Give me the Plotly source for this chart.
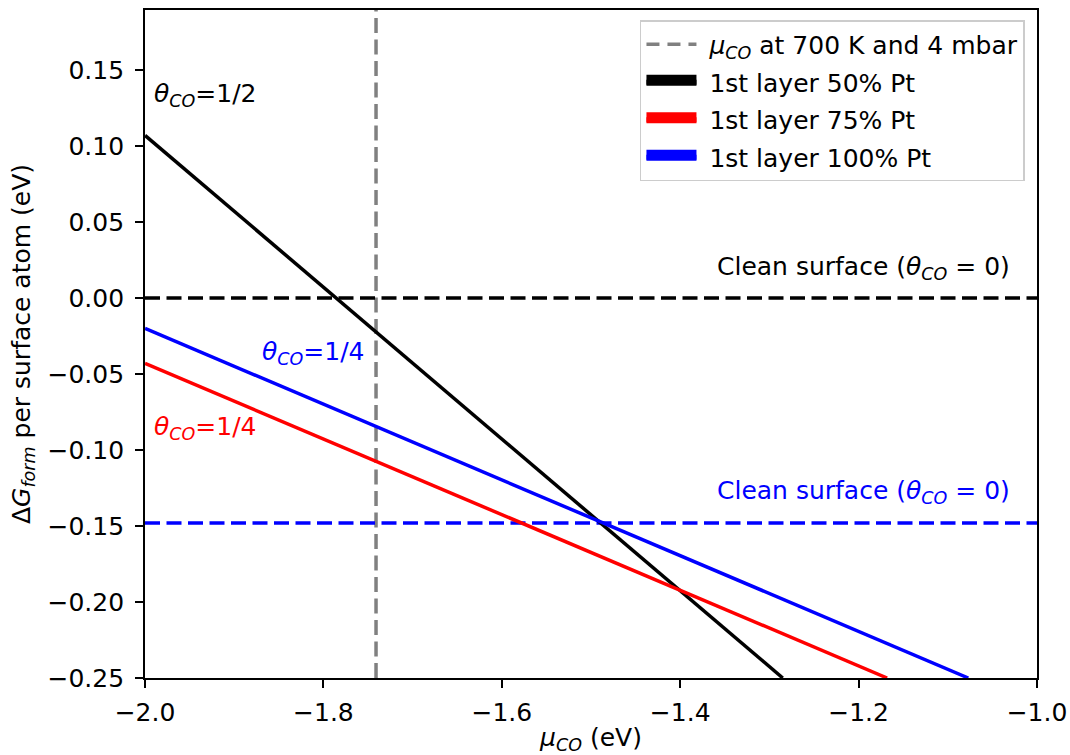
import plotly.graph_objects as go

# Data
mu_range = [-2.0, -1.0]
g_range = [-0.25, 0.1895]

black_x = [-2.0, -1.285]
black_y = [0.107, -0.25]
red_x = [-2.0, -1.168]
red_y = [-0.043, -0.25]
blue_x = [-2.0, -1.077]
blue_y = [-0.020, -0.25]

clean_black = 0.0
clean_blue = -0.148
mu_700K = -1.741

x_ticks = [-2.0, -1.8, -1.6, -1.4, -1.2, -1.0]
y_ticks = [0.15, 0.10, 0.05, 0.00, -0.05, -0.10, -0.15, -0.20, -0.25]

legend_names = ["<i>μ</i><sub><i>CO</i></sub> at 700 K and 4 mbar",
                "1st layer 50% Pt", "1st layer 75% Pt", "1st layer 100% Pt"]

FONT = "DejaVu Sans"
FS = 25
DASH = "15px,6.5px"
LW = 3.5

fig = go.Figure()

# vertical gray dashed line
fig.add_trace(go.Scatter(x=[mu_700K, mu_700K], y=g_range, mode="lines",
                         line=dict(color="#808080", width=LW, dash=DASH),
                         showlegend=False, hoverinfo="skip"))
# clean surface lines
fig.add_trace(go.Scatter(x=mu_range, y=[clean_black, clean_black], mode="lines",
                         line=dict(color="black", width=LW, dash=DASH),
                         showlegend=False))
fig.add_trace(go.Scatter(x=mu_range, y=[clean_blue, clean_blue], mode="lines",
                         line=dict(color="blue", width=LW, dash=DASH),
                         showlegend=False))
# coverage lines
fig.add_trace(go.Scatter(x=black_x, y=black_y, mode="lines",
                         line=dict(color="black", width=LW), showlegend=False))
fig.add_trace(go.Scatter(x=red_x, y=red_y, mode="lines",
                         line=dict(color="red", width=LW), showlegend=False))
fig.add_trace(go.Scatter(x=blue_x, y=blue_y, mode="lines",
                         line=dict(color="blue", width=LW), showlegend=False))

# legend-only traces
fig.add_trace(go.Scatter(x=[None], y=[None], mode="lines",
                         name="&nbsp;" + legend_names[0], legendgroup="g0",
                         line=dict(color="#808080", width=LW, dash="13px,8px")))
for i, (nm, col) in enumerate(zip(legend_names[1:], ["black", "red", "blue"])):
    fig.add_trace(go.Scatter(x=[None, None], y=[None, None], mode="lines",
                             fill="toself", fillcolor=col,
                             name="&nbsp;" + nm, legendgroup="g%d" % (i + 1),
                             line=dict(color=col, width=10)))

theta = "<i>θ</i><sub><i>CO</i></sub>"
annos = [
    dict(x=-1.992, y=0.1336, text=theta + "=1/2", color="black", xanchor="left"),
    dict(x=-1.871, y=-0.036, text=theta + "=1/4", color="blue", xanchor="left"),
    dict(x=-1.992, y=-0.0855, text=theta + "=1/4", color="red", xanchor="left"),
    dict(x=-1.028, y=0.0197, text="Clean surface (" + theta + " = 0)", color="black", xanchor="right"),
    dict(x=-1.028, y=-0.1276, text="Clean surface (" + theta + " = 0)", color="blue", xanchor="right"),
]
for a in annos:
    fig.add_annotation(x=a["x"], y=a["y"], text=a["text"], showarrow=False,
                       xanchor=a["xanchor"], yanchor="middle",
                       font=dict(family=FONT, size=FS, color=a["color"]))

axis_common = dict(showline=True, linecolor="black", linewidth=1.8, mirror=True,
                   ticks="outside", ticklen=8, tickwidth=1.8, tickcolor="black",
                   showgrid=False, zeroline=False, automargin=False,
                   tickfont=dict(family=FONT, size=FS, color="black"))

fig.update_layout(
    width=1070, height=755,
    margin=dict(l=145, r=33, t=10, b=77, autoexpand=False),
    paper_bgcolor="white", plot_bgcolor="white",
    font=dict(family=FONT, size=FS, color="black"),
    xaxis=dict(range=mu_range, tickvals=x_ticks, tickformat=".1f",
               ticklabelstandoff=3,
               title=dict(text="<i>μ</i><sub><i>CO</i></sub> (eV)",
                          font=dict(family=FONT, size=FS), standoff=6),
               **axis_common),
    yaxis=dict(range=g_range, tickvals=y_ticks, tickformat=".2f",
               ticklabelstandoff=6,
               title=dict(text="Δ<i>G</i><sub><i>form</i></sub> per surface atom (eV)",
                          font=dict(family=FONT, size=FS), standoff=10),
               **axis_common),
    legend=dict(x=0.9865, y=0.985, xanchor="right", yanchor="top",
                bgcolor="white", bordercolor="#cccccc", borderwidth=1.5,
                font=dict(family=FONT, size=FS), itemwidth=50,
                tracegroupgap=2),
    showlegend=True,
)

fig.write_html("out.html")
